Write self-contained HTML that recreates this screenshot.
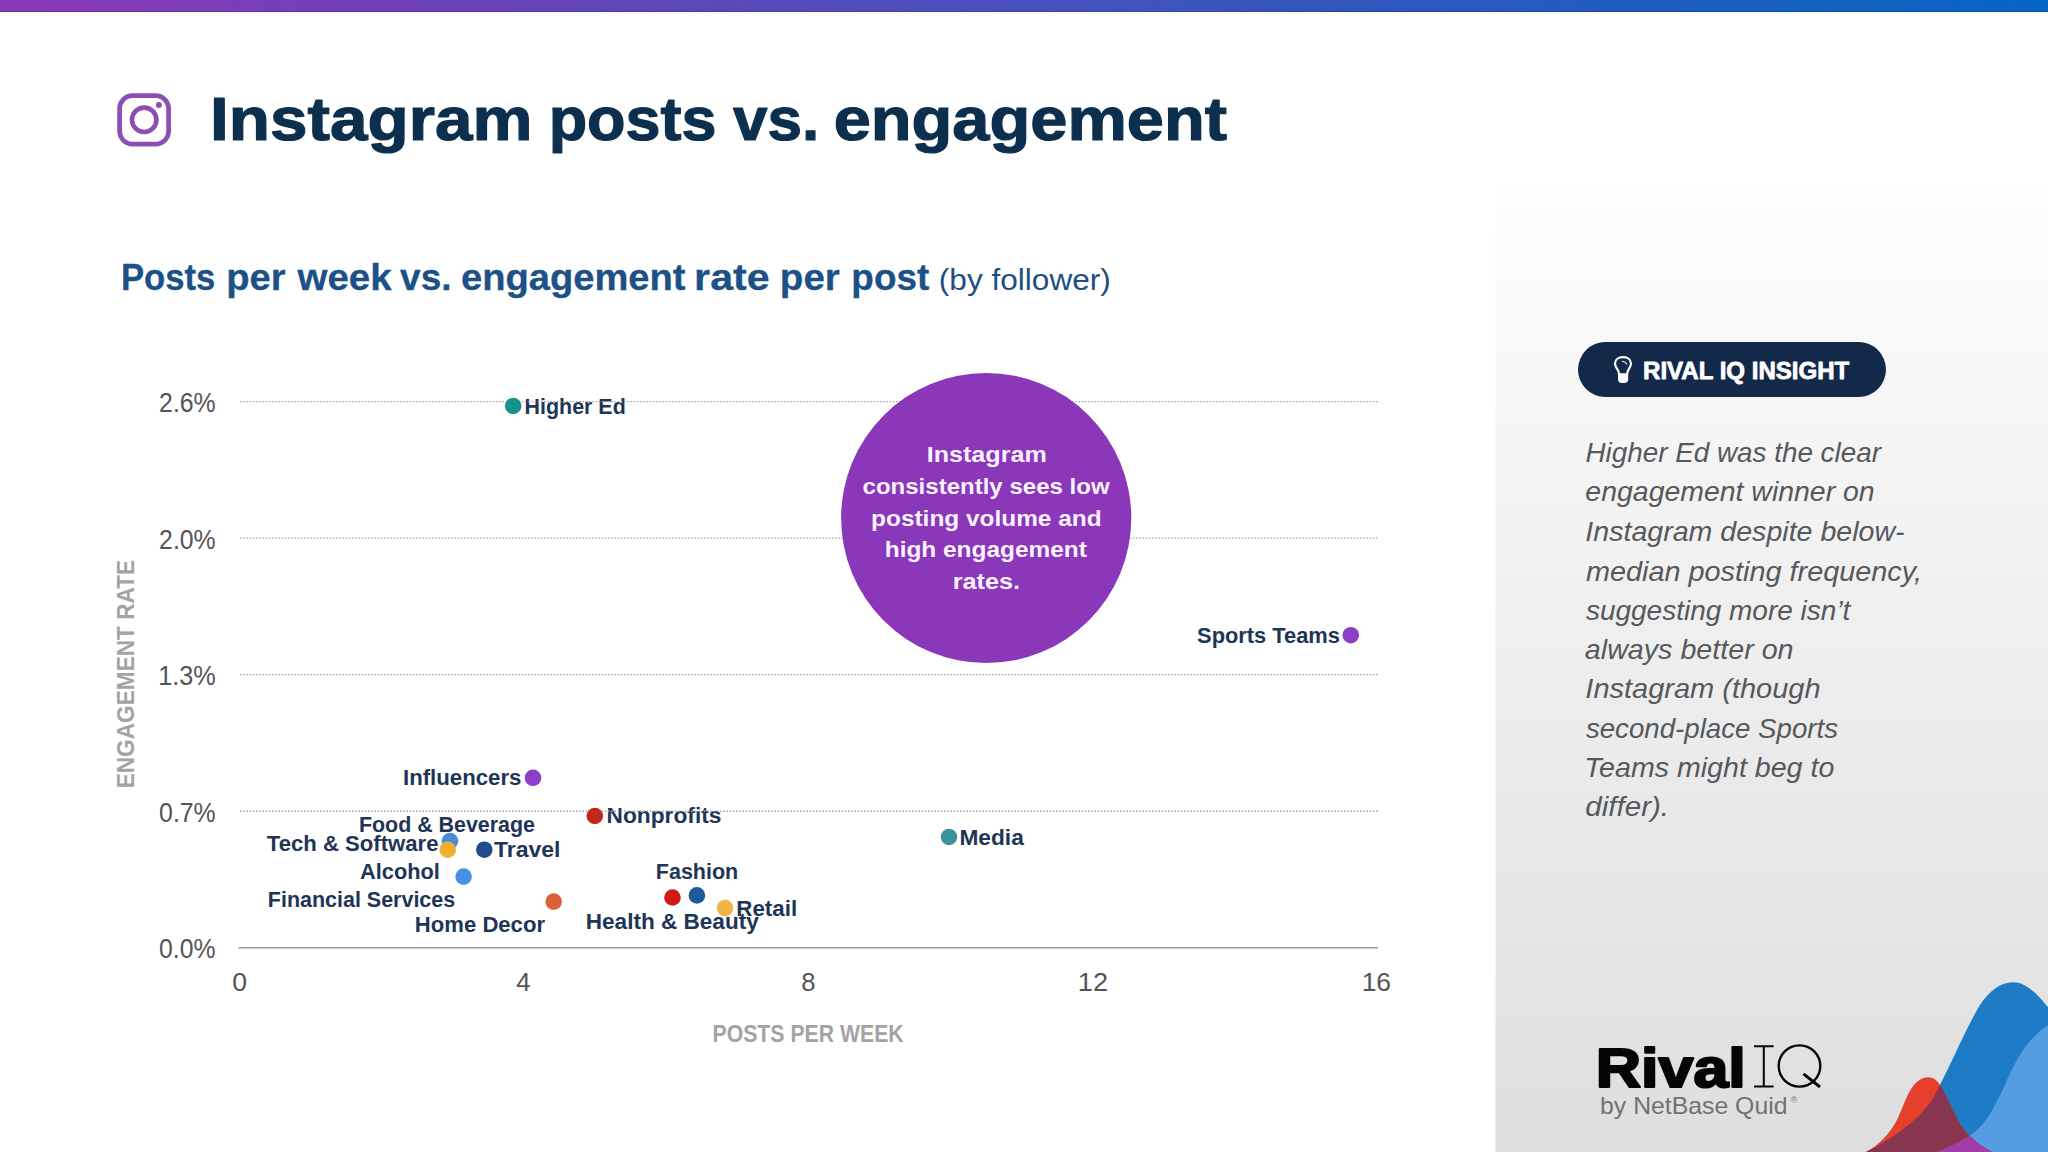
<!DOCTYPE html>
<html><head><meta charset="utf-8"><title>Instagram posts vs. engagement</title>
<style>html,body{margin:0;padding:0;background:#fff;}body{width:2048px;height:1152px;overflow:hidden;font-family:"Liberation Sans",sans-serif;}svg{display:block;}</style>
</head><body>
<svg width="2048" height="1152" viewBox="0 0 2048 1152" font-family="Liberation Sans, sans-serif">
<defs>
<linearGradient id="bar" x1="0" y1="0" x2="1" y2="0">
<stop offset="0" stop-color="#8a38b8"/><stop offset="0.5" stop-color="#4750bd"/><stop offset="1" stop-color="#0566c4"/>
</linearGradient>
<linearGradient id="panel" x1="0" y1="0" x2="0" y2="1">
<stop offset="0" stop-color="#fdfdfd"/><stop offset="1" stop-color="#dedede"/>
</linearGradient>
<clipPath id="cpDB"><path d="M1866,1152 C1885,1142 1915,1125 1932,1100 C1945,1078 1965,1030 1979,1006.5 C1988,992 2000,982.2 2013,982.2 C2024,982.2 2034,990 2048,1007.3 L2048,1152 Z"/></clipPath>
<clipPath id="cpLB"><path d="M1936,1152 C1950,1147 1966,1139 1976,1131 C1988,1120 1996,1104 2004,1087 C2012,1068 2022,1048 2034,1037 C2039,1032 2044,1027 2048,1025.6 L2048,1152 Z"/></clipPath>
</defs>
<rect width="2048" height="1152" fill="#fff"/>
<rect x="0" y="0" width="2048" height="12" fill="url(#bar)"/>
<rect x="0" y="10.8" width="2048" height="1.2" fill="#1a1030" opacity="0.22"/>
<rect x="1495.5" y="189.5" width="552.5" height="962.5" fill="url(#panel)"/>
<!-- instagram icon -->
<rect x="119.6" y="95.7" width="49" height="48.4" rx="13" ry="13" fill="none" stroke="#8e4db5" stroke-width="4.7"/>
<circle cx="144.2" cy="119.8" r="12.2" fill="none" stroke="#8e4db5" stroke-width="4.6"/>
<circle cx="158.9" cy="105" r="3" fill="#8e4db5"/>
<text x="524.52" y="413.60" textLength="101.22" lengthAdjust="spacingAndGlyphs" font-size="21.8" font-weight="bold" fill="#1e3557">Higher Ed</text>
<text x="402.98" y="785.40" textLength="118.52" lengthAdjust="spacingAndGlyphs" font-size="21.8" font-weight="bold" fill="#1e3557">Influencers</text>
<text x="606.46" y="823.40" textLength="115.08" lengthAdjust="spacingAndGlyphs" font-size="21.8" font-weight="bold" fill="#1e3557">Nonprofits</text>
<text x="358.92" y="832.40" textLength="176.04" lengthAdjust="spacingAndGlyphs" font-size="21.8" font-weight="bold" fill="#1e3557">Food &amp; Beverage</text>
<text x="266.80" y="850.60" textLength="171.67" lengthAdjust="spacingAndGlyphs" font-size="21.8" font-weight="bold" fill="#1e3557">Tech &amp; Software</text>
<text x="493.90" y="857.20" textLength="66.59" lengthAdjust="spacingAndGlyphs" font-size="21.8" font-weight="bold" fill="#1e3557">Travel</text>
<text x="360.10" y="878.90" textLength="79.71" lengthAdjust="spacingAndGlyphs" font-size="21.8" font-weight="bold" fill="#1e3557">Alcohol</text>
<text x="267.81" y="906.50" textLength="187.40" lengthAdjust="spacingAndGlyphs" font-size="21.8" font-weight="bold" fill="#1e3557">Financial Services</text>
<text x="414.89" y="931.80" textLength="130.13" lengthAdjust="spacingAndGlyphs" font-size="21.8" font-weight="bold" fill="#1e3557">Home Decor</text>
<text x="655.81" y="878.90" textLength="82.43" lengthAdjust="spacingAndGlyphs" font-size="21.8" font-weight="bold" fill="#1e3557">Fashion</text>
<text x="736.28" y="916.20" textLength="60.82" lengthAdjust="spacingAndGlyphs" font-size="21.8" font-weight="bold" fill="#1e3557">Retail</text>
<text x="585.77" y="929.30" textLength="173.00" lengthAdjust="spacingAndGlyphs" font-size="21.8" font-weight="bold" fill="#1e3557">Health &amp; Beauty</text>
<text x="959.46" y="844.50" textLength="64.31" lengthAdjust="spacingAndGlyphs" font-size="21.8" font-weight="bold" fill="#1e3557">Media</text>
<text x="1197.10" y="642.70" textLength="142.83" lengthAdjust="spacingAndGlyphs" font-size="21.8" font-weight="bold" fill="#1e3557">Sports Teams</text>
<line x1="240" y1="401.6" x2="1378" y2="401.6" stroke="#a8a8a8" stroke-width="1.4" stroke-dasharray="1.6 1.6"/>
<line x1="240" y1="538.1" x2="1378" y2="538.1" stroke="#a8a8a8" stroke-width="1.4" stroke-dasharray="1.6 1.6"/>
<line x1="240" y1="674.6" x2="1378" y2="674.6" stroke="#a8a8a8" stroke-width="1.4" stroke-dasharray="1.6 1.6"/>
<line x1="240" y1="811.2" x2="1378" y2="811.2" stroke="#a8a8a8" stroke-width="1.4" stroke-dasharray="1.6 1.6"/>
<line x1="238.5" y1="947.7" x2="1378" y2="947.7" stroke="#9a9a9a" stroke-width="1.6"/>
<circle cx="986.2" cy="518" r="145.1" fill="#8a37b9"/>
<circle cx="513.2" cy="406.0" r="8.3" fill="#17918f"/>
<circle cx="533.0" cy="777.8" r="8.3" fill="#8a3fc4"/>
<circle cx="594.8" cy="816.0" r="8.3" fill="#c0281e"/>
<circle cx="450.0" cy="841.0" r="8.3" fill="#4a8fd6"/>
<circle cx="447.7" cy="849.7" r="8.3" fill="#f2ae2e"/>
<circle cx="484.3" cy="849.7" r="8.3" fill="#1f4d8a"/>
<circle cx="463.6" cy="876.6" r="8.3" fill="#4a90e2"/>
<circle cx="553.7" cy="901.6" r="8.3" fill="#d9623a"/>
<circle cx="672.5" cy="897.5" r="8.3" fill="#d01a1a"/>
<circle cx="696.9" cy="895.4" r="8.3" fill="#1f5a9c"/>
<circle cx="725.0" cy="908.1" r="8.3" fill="#f0b445"/>
<circle cx="949.0" cy="837.0" r="8.3" fill="#3a9399"/>
<circle cx="1350.8" cy="635.2" r="8.3" fill="#8a3fc4"/>
<!-- pill -->
<rect x="1578" y="342" width="308" height="55" rx="27.5" ry="27.5" fill="#12294a"/>
<g fill="none" stroke="#fff" stroke-width="2.2" stroke-linecap="round">
<path d="M1618.9,373.5 C1618.9,369.5 1615,367.8 1615,363.6 C1615,359.4 1618.7,357.2 1623,357.2 C1627.3,357.2 1631,359.4 1631,363.6 C1631,367.8 1627.3,369.5 1627.3,373.5"/>
<path d="M1622.3,361.2 C1624.2,361.4 1625.9,362.4 1626.7,364" stroke-width="1.1"/>
</g>
<path d="M1618,373.2 H1628.2 V379.5 C1628.2,381.5 1626.5,383 1624.5,383 H1621.7 C1619.7,383 1618,381.5 1618,379.5 Z" fill="#fff"/>
<!-- corner -->
<path d="M1866,1152 C1885,1142 1915,1125 1932,1100 C1945,1078 1965,1030 1979,1006.5 C1988,992 2000,982.2 2013,982.2 C2024,982.2 2034,990 2048,1007.3 L2048,1152 Z" fill="#1e7bc6"/>
<path d="M1936,1152 C1950,1147 1966,1139 1976,1131 C1988,1120 1996,1104 2004,1087 C2012,1068 2022,1048 2034,1037 C2039,1032 2044,1027 2048,1025.6 L2048,1152 Z" fill="#559de0"/>
<path d="M1866,1152 C1878,1146 1890,1134 1898,1118 C1904,1104 1908,1092 1914,1085 C1918,1080 1923,1077.2 1928,1077.2 C1934,1077.2 1938,1081 1942,1088 C1948,1099 1953,1111 1958,1120 C1965,1133 1975,1143 1992,1152 Z" fill="#e4402c"/>
<path d="M1866,1152 C1878,1146 1890,1134 1898,1118 C1904,1104 1908,1092 1914,1085 C1918,1080 1923,1077.2 1928,1077.2 C1934,1077.2 1938,1081 1942,1088 C1948,1099 1953,1111 1958,1120 C1965,1133 1975,1143 1992,1152 Z" fill="#883550" clip-path="url(#cpDB)"/>
<path d="M1866,1152 C1878,1146 1890,1134 1898,1118 C1904,1104 1908,1092 1914,1085 C1918,1080 1923,1077.2 1928,1077.2 C1934,1077.2 1938,1081 1942,1088 C1948,1099 1953,1111 1958,1120 C1965,1133 1975,1143 1992,1152 Z" fill="#a43ca8" clip-path="url(#cpLB)"/>
<!-- logo IQ -->
<g fill="none" stroke="#050505">
<path d="M1754,1046.3 H1773.6 M1754,1086.4 H1773.6 M1763.8,1046.3 V1086.4" stroke-width="2"/>
<ellipse cx="1799.5" cy="1066" rx="20.8" ry="20.6" stroke-width="2.4"/>
<path d="M1803.5,1073.8 L1820,1087" stroke-width="3"/>
</g>
<text x="1790.6" y="1102.6" font-size="9.5" fill="#777">&#174;</text>
<text x="209.94" y="140.00" textLength="322.49" lengthAdjust="spacingAndGlyphs" font-size="62" font-weight="bold" stroke="#0c2f4e" stroke-width="1.2" stroke-linejoin="round" fill="#0c2f4e">Instagram</text>
<text x="548.65" y="140.00" textLength="167.94" lengthAdjust="spacingAndGlyphs" font-size="62" font-weight="bold" stroke="#0c2f4e" stroke-width="1.2" stroke-linejoin="round" fill="#0c2f4e">posts</text>
<text x="733.00" y="140.00" textLength="86.20" lengthAdjust="spacingAndGlyphs" font-size="62" font-weight="bold" stroke="#0c2f4e" stroke-width="1.2" stroke-linejoin="round" fill="#0c2f4e">vs.</text>
<text x="833.65" y="140.00" textLength="393.37" lengthAdjust="spacingAndGlyphs" font-size="62" font-weight="bold" stroke="#0c2f4e" stroke-width="1.2" stroke-linejoin="round" fill="#0c2f4e">engagement</text>
<text x="120.89" y="289.80" textLength="94.42" lengthAdjust="spacingAndGlyphs" font-size="36.3" font-weight="bold" stroke="#1c5187" stroke-width="0.3" stroke-linejoin="round" fill="#1c5187">Posts</text>
<text x="226.30" y="289.80" textLength="59.41" lengthAdjust="spacingAndGlyphs" font-size="36.3" font-weight="bold" stroke="#1c5187" stroke-width="0.3" stroke-linejoin="round" fill="#1c5187">per</text>
<text x="297.50" y="289.80" textLength="94.18" lengthAdjust="spacingAndGlyphs" font-size="36.3" font-weight="bold" stroke="#1c5187" stroke-width="0.3" stroke-linejoin="round" fill="#1c5187">week</text>
<text x="400.10" y="289.80" textLength="51.42" lengthAdjust="spacingAndGlyphs" font-size="36.3" font-weight="bold" stroke="#1c5187" stroke-width="0.3" stroke-linejoin="round" fill="#1c5187">vs.</text>
<text x="460.95" y="289.80" textLength="224.64" lengthAdjust="spacingAndGlyphs" font-size="36.3" font-weight="bold" stroke="#1c5187" stroke-width="0.3" stroke-linejoin="round" fill="#1c5187">engagement</text>
<text x="694.13" y="289.80" textLength="75.54" lengthAdjust="spacingAndGlyphs" font-size="36.3" font-weight="bold" stroke="#1c5187" stroke-width="0.3" stroke-linejoin="round" fill="#1c5187">rate</text>
<text x="779.88" y="289.80" textLength="59.94" lengthAdjust="spacingAndGlyphs" font-size="36.3" font-weight="bold" stroke="#1c5187" stroke-width="0.3" stroke-linejoin="round" fill="#1c5187">per</text>
<text x="851.37" y="289.80" textLength="77.85" lengthAdjust="spacingAndGlyphs" font-size="36.3" font-weight="bold" stroke="#1c5187" stroke-width="0.3" stroke-linejoin="round" fill="#1c5187">post</text>
<text x="938.86" y="289.60" textLength="171.91" lengthAdjust="spacingAndGlyphs" font-size="29.5" font-weight="normal" fill="#1d4f84">(by follower)</text>
<text x="159.08" y="412.00" textLength="56.62" lengthAdjust="spacingAndGlyphs" font-size="27" font-weight="normal" fill="#545454">2.6%</text>
<text x="159.08" y="548.50" textLength="56.62" lengthAdjust="spacingAndGlyphs" font-size="27" font-weight="normal" fill="#545454">2.0%</text>
<text x="158.13" y="685.00" textLength="57.58" lengthAdjust="spacingAndGlyphs" font-size="27" font-weight="normal" fill="#545454">1.3%</text>
<text x="159.08" y="821.50" textLength="56.62" lengthAdjust="spacingAndGlyphs" font-size="27" font-weight="normal" fill="#545454">0.7%</text>
<text x="159.08" y="957.80" textLength="56.42" lengthAdjust="spacingAndGlyphs" font-size="27" font-weight="normal" fill="#545454">0.0%</text>
<text x="232.17" y="990.60" textLength="14.77" lengthAdjust="spacingAndGlyphs" font-size="25.7" font-weight="normal" fill="#545454">0</text>
<text x="516.30" y="990.60" font-size="25.7" font-weight="normal" fill="#545454">4</text>
<text x="801.20" y="990.60" font-size="25.7" font-weight="normal" fill="#545454">8</text>
<text x="1077.89" y="990.60" textLength="30.18" lengthAdjust="spacingAndGlyphs" font-size="25.7" font-weight="normal" fill="#545454">12</text>
<text x="1361.65" y="990.60" textLength="29.35" lengthAdjust="spacingAndGlyphs" font-size="25.7" font-weight="normal" fill="#545454">16</text>
<text x="712.50" y="1041.70" textLength="191.21" lengthAdjust="spacingAndGlyphs" font-size="23.7" font-weight="bold" fill="#a3a3a3">POSTS PER WEEK</text>
<text transform="translate(133.90 786.50) rotate(-90)" x="-1.87" y="0" textLength="228.53" lengthAdjust="spacingAndGlyphs" font-size="24.2" font-weight="bold" fill="#a3a3a3">ENGAGEMENT RATE</text>
<text x="926.69" y="462.20" textLength="120.10" lengthAdjust="spacingAndGlyphs" font-size="22.7" font-weight="bold" fill="#fdf2ff">Instagram</text>
<text x="862.54" y="493.90" textLength="247.06" lengthAdjust="spacingAndGlyphs" font-size="22.7" font-weight="bold" fill="#fdf2ff">consistently sees low</text>
<text x="871.12" y="525.60" textLength="230.45" lengthAdjust="spacingAndGlyphs" font-size="22.7" font-weight="bold" fill="#fdf2ff">posting volume and</text>
<text x="884.72" y="557.30" textLength="202.09" lengthAdjust="spacingAndGlyphs" font-size="22.7" font-weight="bold" fill="#fdf2ff">high engagement</text>
<text x="952.69" y="589.20" textLength="67.33" lengthAdjust="spacingAndGlyphs" font-size="22.7" font-weight="bold" fill="#fdf2ff">rates.</text>
<text x="1643.03" y="378.50" textLength="206.27" lengthAdjust="spacingAndGlyphs" font-size="24.7" font-weight="bold" stroke="#ffffff" stroke-width="0.8" stroke-linejoin="round" fill="#ffffff">RIVAL IQ INSIGHT</text>
<text x="1585.41" y="461.60" textLength="295.56" lengthAdjust="spacingAndGlyphs" font-size="28" font-weight="normal" font-style="italic" fill="#55595e">Higher Ed was the clear</text>
<text x="1585.38" y="501.20" textLength="289.30" lengthAdjust="spacingAndGlyphs" font-size="28" font-weight="normal" font-style="italic" fill="#55595e">engagement winner on</text>
<text x="1585.38" y="540.70" textLength="319.17" lengthAdjust="spacingAndGlyphs" font-size="28" font-weight="normal" font-style="italic" fill="#55595e">Instagram despite below-</text>
<text x="1585.90" y="580.60" textLength="336.16" lengthAdjust="spacingAndGlyphs" font-size="28" font-weight="normal" font-style="italic" fill="#55595e">median posting frequency,</text>
<text x="1585.90" y="619.60" textLength="264.48" lengthAdjust="spacingAndGlyphs" font-size="28" font-weight="normal" font-style="italic" fill="#55595e">suggesting more isn’t</text>
<text x="1584.88" y="658.60" textLength="208.63" lengthAdjust="spacingAndGlyphs" font-size="28" font-weight="normal" font-style="italic" fill="#55595e">always better on</text>
<text x="1585.36" y="698.10" textLength="235.23" lengthAdjust="spacingAndGlyphs" font-size="28" font-weight="normal" font-style="italic" fill="#55595e">Instagram (though</text>
<text x="1585.90" y="737.50" textLength="252.16" lengthAdjust="spacingAndGlyphs" font-size="28" font-weight="normal" font-style="italic" fill="#55595e">second-place Sports</text>
<text x="1584.24" y="776.60" textLength="250.07" lengthAdjust="spacingAndGlyphs" font-size="28" font-weight="normal" font-style="italic" fill="#55595e">Teams might beg to</text>
<text x="1585.35" y="815.90" textLength="83.70" lengthAdjust="spacingAndGlyphs" font-size="28" font-weight="normal" font-style="italic" fill="#55595e">differ).</text>
<text x="1595.74" y="1087.20" textLength="150.07" lengthAdjust="spacingAndGlyphs" font-size="56" font-weight="bold" stroke="#050505" stroke-width="2.2" stroke-linejoin="round" fill="#050505">Rival</text>
<text x="1600.07" y="1114.00" textLength="187.42" lengthAdjust="spacingAndGlyphs" font-size="24" font-weight="normal" fill="#717171">by NetBase Quid</text>
</svg>
</body></html>
